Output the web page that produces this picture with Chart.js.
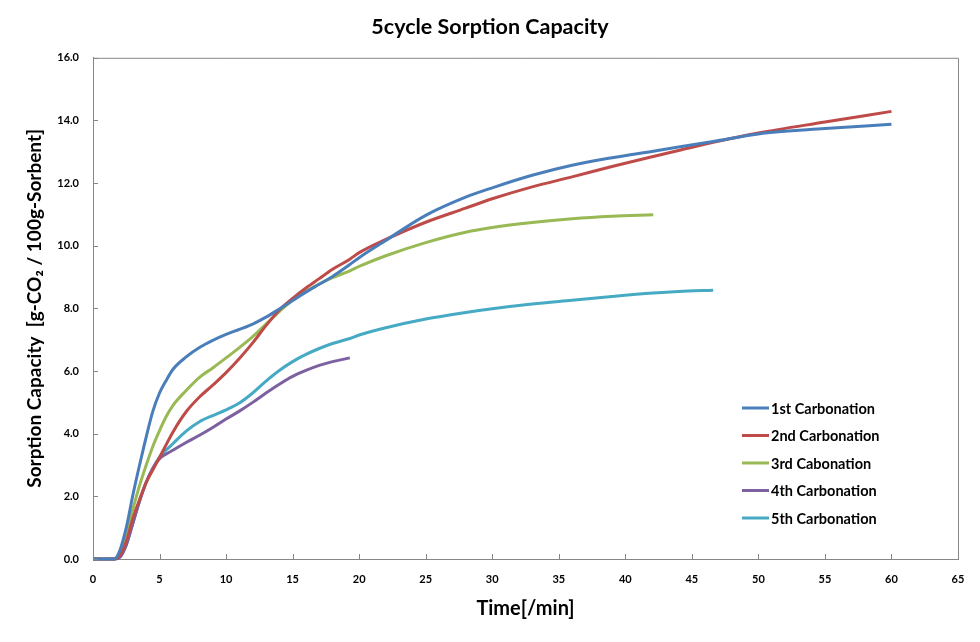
<!DOCTYPE html>
<html>
<head>
<meta charset="utf-8">
<script src="https://cdn.jsdelivr.net/npm/chart.js@4.4.1/dist/chart.umd.min.js"></script>
<style>
    html, body { margin: 0; padding: 0; background: #fff; }
    #wrap { width: 980px; height: 642px; }
</style>
</head>
<body>
<div id="wrap"><canvas id="sorption"></canvas></div>
<script>
// time axis (min), shared by all five runs; runs that stop early are padded with null
var timeMin = [0, 1, 1.6, 2, 2.5, 3, 3.5, 4, 4.5, 5, 5.5, 6, 7, 8, 9, 10, 11, 12, 13, 14, 15, 16, 17, 18, 19.3, 20, 22, 25, 28, 30, 33, 36, 39, 42.1, 44, 46.6, 50, 55, 60];

var carb1 = [0, 0, 0, 0.25, 1.0, 2.05, 3.0, 3.9, 4.72, 5.3, 5.7, 6.05, 6.45, 6.75, 6.98, 7.17, 7.33, 7.5, 7.72, 7.98, 8.25, 8.52, 8.77, 9.02, 9.4, 9.62, 10.17, 10.97, 11.55, 11.85, 12.25, 12.57, 12.81, 13.02, 13.15, 13.33, 13.57, 13.74, 13.88];
var carb2 = [0, 0, 0, 0.1, 0.55, 1.3, 1.9, 2.45, 2.85, 3.25, 3.65, 4.05, 4.7, 5.17, 5.55, 5.95, 6.4, 6.9, 7.45, 7.95, 8.32, 8.65, 8.95, 9.25, 9.57, 9.78, 10.2, 10.75, 11.2, 11.5, 11.88, 12.2, 12.53, 12.85, 13.04, 13.3, 13.6, 13.95, 14.29];
var carb3 = [0, 0, 0, 0.2, 0.8, 1.6, 2.35, 3.0, 3.6, 4.1, 4.55, 4.9, 5.38, 5.8, 6.1, 6.42, 6.75, 7.1, 7.5, 7.9, 8.27, 8.55, 8.78, 8.98, 9.2, 9.34, 9.68, 10.1, 10.43, 10.58, 10.74, 10.86, 10.94, 10.99, null, null, null, null, null];
var carb4 = [0, 0, 0, 0.05, 0.45, 1.15, 1.85, 2.45, 2.9, 3.2, 3.35, 3.47, 3.72, 3.95, 4.2, 4.47, 4.72, 5.0, 5.3, 5.58, 5.83, 6.02, 6.18, 6.3, 6.42, null, null, null, null, null, null, null, null, null, null, null, null, null, null];
var carb5 = [0, 0, 0, 0.05, 0.45, 1.15, 1.85, 2.45, 2.9, 3.25, 3.48, 3.68, 4.08, 4.38, 4.58, 4.76, 4.98, 5.3, 5.68, 6.02, 6.3, 6.53, 6.72, 6.88, 7.04, 7.15, 7.38, 7.66, 7.87, 7.99, 8.14, 8.26, 8.38, 8.49, 8.54, 8.58, null, null, null];

var seriesNames = ['1st Carbonation', '2nd Carbonation', '3rd Cabonation', '4th Carbonation', '5th Carbonation'];
var seriesValues = [carb1, carb2, carb3, carb4, carb5];
var seriesColors = ['#4A7EBB', '#BE4B48', '#98B954', '#7D60A0', '#46AAC5'];

var FONT = 'Lato, "Open Sans", sans-serif';
var AXIS_GREY = '#868686';

function toPoints(vals) {
    var pts = [];
    for (var i = 0; i < vals.length; i++) {
        if (vals[i] !== null) pts.push({x: timeMin[i], y: vals[i]});
    }
    return pts;
}

var datasets = seriesValues.map(function(vals, i) {
    return {
        label: seriesNames[i],
        data: toPoints(vals),
        borderColor: seriesColors[i],
        backgroundColor: seriesColors[i],
        borderWidth: 3,
        pointRadius: 0,
        cubicInterpolationMode: 'monotone',
        clip: false
    };
});

// box frame + inward tick marks, like the spreadsheet original
var framePlugin = {
    id: 'frame',
    afterDraw: function(chart) {
        var ctx = chart.ctx, a = chart.chartArea;
        var xs = chart.scales.x, ys = chart.scales.y;
        ctx.save();
        ctx.strokeStyle = AXIS_GREY;
        ctx.lineWidth = 1;
        ctx.beginPath();
        ctx.moveTo(a.left, a.top + 0.5);
        ctx.lineTo(a.right + 0.5, a.top + 0.5);
        ctx.lineTo(a.right + 0.5, a.bottom);
        xs.ticks.forEach(function(t) {
            var px = Math.round(xs.getPixelForValue(t.value)) + 0.5;
            ctx.moveTo(px, a.bottom);
            ctx.lineTo(px, a.bottom - 5);
        });
        ys.ticks.forEach(function(t) {
            var py = Math.round(ys.getPixelForValue(t.value)) + 0.5;
            ctx.moveTo(a.left, py);
            ctx.lineTo(a.left + 5, py);
        });
        ctx.stroke();
        ctx.restore();
    }
};

// legend sits inside the plot, lower right
var innerLegend = {
    id: 'innerLegend',
    afterDatasetsDraw: function(chart) {
        var ctx = chart.ctx, a = chart.chartArea;
        var x0 = a.right - 216, y0 = a.bottom - 151;
        ctx.save();
        ctx.font = 'bold 14.5px ' + FONT;
        ctx.textBaseline = 'middle';
        ctx.fillStyle = '#000';
        chart.data.datasets.forEach(function(ds, i) {
            var y = y0 + i * 27.5;
            ctx.strokeStyle = ds.borderColor;
            ctx.lineWidth = 3;
            ctx.beginPath();
            ctx.moveTo(x0, y);
            ctx.lineTo(x0 + 27, y);
            ctx.stroke();
            ctx.fillText(ds.label, x0 + 29, y + 1);
        });
        ctx.restore();
    }
};

new Chart(document.getElementById('sorption'), {
    type: 'line',
    data: {datasets: datasets},
    plugins: [framePlugin, innerLegend],
    options: {
        responsive: true,
        maintainAspectRatio: false,
        animation: false,
        events: [],
        layout: {padding: {left: 22, right: 22, top: 0, bottom: 0}},
        plugins: {
            legend: {display: false},
            tooltip: {enabled: false},
            title: {
                display: true,
                text: '5cycle Sorption Capacity',
                color: '#000',
                font: {family: FONT, size: 21.5, weight: 'bold'},
                padding: {top: 14, bottom: 18}
            }
        },
        scales: {
            x: {
                type: 'linear',
                min: 0,
                max: 65,
                afterFit: function(s) { s.height = 83; },
                grid: {display: true, drawOnChartArea: false, drawTicks: false},
                border: {display: true, color: AXIS_GREY, width: 1},
                ticks: {
                    stepSize: 5,
                    padding: 14,
                    color: '#000',
                    font: {family: FONT, size: 11, weight: 'bold'},
                    maxRotation: 0
                },
                title: {
                    display: true,
                    text: 'Time[/min]',
                    color: '#000',
                    font: {family: FONT, size: 20, weight: 'bold'},
                    padding: {top: 0, bottom: 21}
                }
            },
            y: {
                min: 0,
                max: 16,
                afterFit: function(s) { s.width = 71; },
                grid: {display: true, drawOnChartArea: false, drawTicks: false},
                border: {display: true, color: AXIS_GREY, width: 1},
                ticks: {
                    stepSize: 2,
                    padding: 14,
                    color: '#000',
                    font: {family: FONT, size: 11, weight: 'bold'},
                    callback: function(v) { return v.toFixed(1); }
                },
                title: {
                    display: true,
                    text: 'Sorption Capacity  [g-CO\u2082 / 100g-Sorbent]',
                    color: '#000',
                    font: {family: FONT, size: 19, weight: 'bold'},
                    padding: {top: 1, bottom: 0}
                }
            }
        }
    }
});
</script>
</body>
</html>
